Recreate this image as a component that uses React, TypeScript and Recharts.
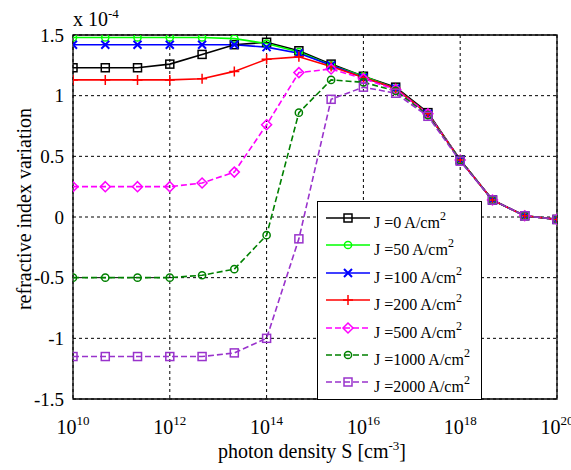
import React from 'react'
import {
  LineChart, Line, XAxis, YAxis, CartesianGrid, ReferenceArea, Label,
} from 'recharts'

// photon density exponents: S = 10^x  [cm^-3]
const logS = [10, 10.667, 11.333, 12, 12.667, 13.333, 14, 14.667, 15.333, 16, 16.667, 17.333, 18, 18.667, 19.333, 20]

// refractive index variation (x 1e-4) per current density
const j0 = [1.23, 1.23, 1.23, 1.26, 1.34, 1.42, 1.44, 1.37, 1.26, 1.16, 1.07, 0.86, 0.47, 0.14, 0.01, -0.02]
const j50 = [1.48, 1.48, 1.48, 1.48, 1.48, 1.47, 1.43, 1.36, 1.25, 1.16, 1.06, 0.85, 0.47, 0.14, 0.01, -0.02]
const j100 = [1.42, 1.42, 1.42, 1.42, 1.42, 1.42, 1.40, 1.35, 1.25, 1.15, 1.06, 0.85, 0.47, 0.14, 0.01, -0.02]
const j200 = [1.13, 1.13, 1.13, 1.13, 1.14, 1.20, 1.30, 1.32, 1.24, 1.15, 1.06, 0.85, 0.47, 0.14, 0.01, -0.02]
const j500 = [0.25, 0.25, 0.25, 0.25, 0.28, 0.37, 0.76, 1.19, 1.22, 1.14, 1.05, 0.85, 0.47, 0.14, 0.01, -0.02]
const j1000 = [-0.5, -0.5, -0.5, -0.5, -0.48, -0.43, -0.15, 0.86, 1.13, 1.11, 1.04, 0.84, 0.47, 0.14, 0.01, -0.02]
const j2000 = [-1.15, -1.15, -1.15, -1.15, -1.15, -1.12, -1.0, -0.18, 0.97, 1.07, 1.02, 0.83, 0.46, 0.14, 0.01, -0.02]

const xTicks = [10, 12, 14, 16, 18, 20]
const yTicks = [-1.5, -1, -0.5, 0, 0.5, 1, 1.5]

type Marker = 'square' | 'circle' | 'x' | 'plus' | 'diamond'
const series: { key: string; j: string; values: number[]; color: string; dashed: boolean; marker: Marker }[] = [
  { key: 'j0', j: '0', values: j0, color: '#000000', dashed: false, marker: 'square' },
  { key: 'j50', j: '50', values: j50, color: '#00ff00', dashed: false, marker: 'circle' },
  { key: 'j100', j: '100', values: j100, color: '#0000ff', dashed: false, marker: 'x' },
  { key: 'j200', j: '200', values: j200, color: '#ff0000', dashed: false, marker: 'plus' },
  { key: 'j500', j: '500', values: j500, color: '#ff00ff', dashed: true, marker: 'diamond' },
  { key: 'j1000', j: '1000', values: j1000, color: '#008000', dashed: true, marker: 'circle' },
  { key: 'j2000', j: '2000', values: j2000, color: '#9933cc', dashed: true, marker: 'square' },
]

const rows = logS.map((x, i) => {
  const r: Record<string, number> = { x }
  series.forEach(s => { r[s.key] = s.values[i] })
  return r
})

const FONT = "'Liberation Serif', 'Times New Roman', Tinos, 'DejaVu Serif', serif"
const W = 571, H = 470
const M = { top: 35, right: 14, bottom: 0, left: 0 }
const X_AXIS_H = 71
const DASH = '6 3'

function markerShape(kind: Marker, cx: number, cy: number, color: string, key?: React.Key) {
  const sw = 1.5
  switch (kind) {
    case 'square':
      return <rect key={key} x={cx - 4} y={cy - 4} width={8} height={8} fill="none" stroke={color} strokeWidth={sw} />
    case 'circle':
      return <circle key={key} cx={cx} cy={cy} r={3.6} fill="none" stroke={color} strokeWidth={sw} />
    case 'x':
      return <path key={key} d={`M${cx - 4},${cy - 4}L${cx + 4},${cy + 4}M${cx - 4},${cy + 4}L${cx + 4},${cy - 4}`} stroke={color} strokeWidth={2} />
    case 'plus':
      return <path key={key} d={`M${cx - 5},${cy}L${cx + 5},${cy}M${cx},${cy - 5}L${cx},${cy + 5}`} stroke={color} strokeWidth={sw} />
    case 'diamond':
      return <path key={key} d={`M${cx},${cy - 5}L${cx + 5},${cy}L${cx},${cy + 5}L${cx - 5},${cy}Z`} fill="none" stroke={color} strokeWidth={sw} />
  }
}

const XTick = ({ x, y, payload }: any) => (
  <text x={x} y={y + 27} textAnchor="middle" fontFamily={FONT} fontSize={20} fill="#000">
    <tspan>10</tspan>
    <tspan dy={-9} fontSize={13}>{payload.value}</tspan>
  </text>
)

const YTick = ({ x, y, payload }: any) => (
  <text x={x - 1} y={y} dy="0.35em" textAnchor="end" fontFamily={FONT} fontSize={19} fill="#000">
    {String(payload.value)}
  </text>
)

function LegendBox() {
  return (
    <div style={{
      position: 'absolute', left: 317, top: 201, width: 163, height: 197,
      background: '#fff', border: '1px solid #000', fontFamily: FONT, fontSize: 16,
    }}>
      {series.map((s, i) => (
        <div key={s.key} style={{ position: 'absolute', left: 8, top: 5 + i * 27.4, height: 22, display: 'flex', alignItems: 'center' }}>
          <svg width={44} height={22} style={{ display: 'block' }}>
            <line x1={0} y1={11} x2={44} y2={11} stroke={s.color} strokeWidth={1.5} strokeDasharray={s.dashed ? DASH : undefined} />
            {markerShape(s.marker, 22, 11, s.color)}
          </svg>
          <span style={{ marginLeft: 4, whiteSpace: 'nowrap', position: 'relative', top: 5 }}>
            J ={s.j} A/cm<sup style={{ fontSize: 12, verticalAlign: 'top', position: 'relative', top: -5 }}>2</sup>
          </span>
        </div>
      ))}
    </div>
  )
}

export default function App() {
  return (
    <div style={{ position: 'absolute', left: 0, top: 0, width: W, height: H, background: '#fff', overflow: 'hidden' }}>
      <LineChart width={W} height={H} data={rows} margin={M}>
        <CartesianGrid stroke="#000" strokeDasharray="3 3" strokeWidth={1} />
        <XAxis dataKey="x" type="number" domain={[10, 20]} ticks={xTicks} allowDataOverflow
          tickLine={false} axisLine={false} tick={<XTick />} height={X_AXIS_H} interval={0}>
          <Label content={({ viewBox }: any) => (
            <text x={viewBox.x + viewBox.width / 2 - 3} y={458} textAnchor="middle" fontFamily={FONT} fontSize={20} fill="#000">
              <tspan>photon density S [cm</tspan>
              <tspan dy={-8} fontSize={13}>-3</tspan>
              <tspan dy={8}>]</tspan>
            </text>
          )} />
        </XAxis>
        <YAxis type="number" domain={[-1.5, 1.5]} ticks={yTicks} allowDataOverflow width={73}
          tickLine={false} axisLine={false} tick={<YTick />} interval={0}>
          <Label content={({ viewBox }: any) => {
            const cy = viewBox.y + viewBox.height / 2 - 8
            return (
              <text x={31} y={cy} transform={`rotate(-90 31 ${cy})`} textAnchor="middle" fontFamily={FONT} fontSize={20} fill="#000">
                refractive index variation
              </text>
            )
          }} />
        </YAxis>
        <ReferenceArea x1={10} x2={20} y1={-1.5} y2={1.5} fill="none" stroke="#000" strokeWidth={1.3} fillOpacity={0} ifOverflow="visible" />
        {series.map(s => (
          <Line key={s.key} dataKey={s.key} type="linear" stroke={s.color} strokeWidth={1.6}
            strokeDasharray={s.dashed ? DASH : undefined} isAnimationActive={false}
            dot={(p: any) => markerShape(s.marker, p.cx, p.cy, s.color, `${s.key}-${p.index}`)}
            activeDot={false} />
        ))}
      </LineChart>
      <div style={{ position: 'absolute', left: 73, top: 8, fontFamily: FONT, fontSize: 20, lineHeight: '22px', whiteSpace: 'nowrap' }}>
        x 10<sup style={{ fontSize: 13, verticalAlign: 'top', position: 'relative', top: -5 }}>-4</sup>
      </div>
      <LegendBox />
    </div>
  )
}
